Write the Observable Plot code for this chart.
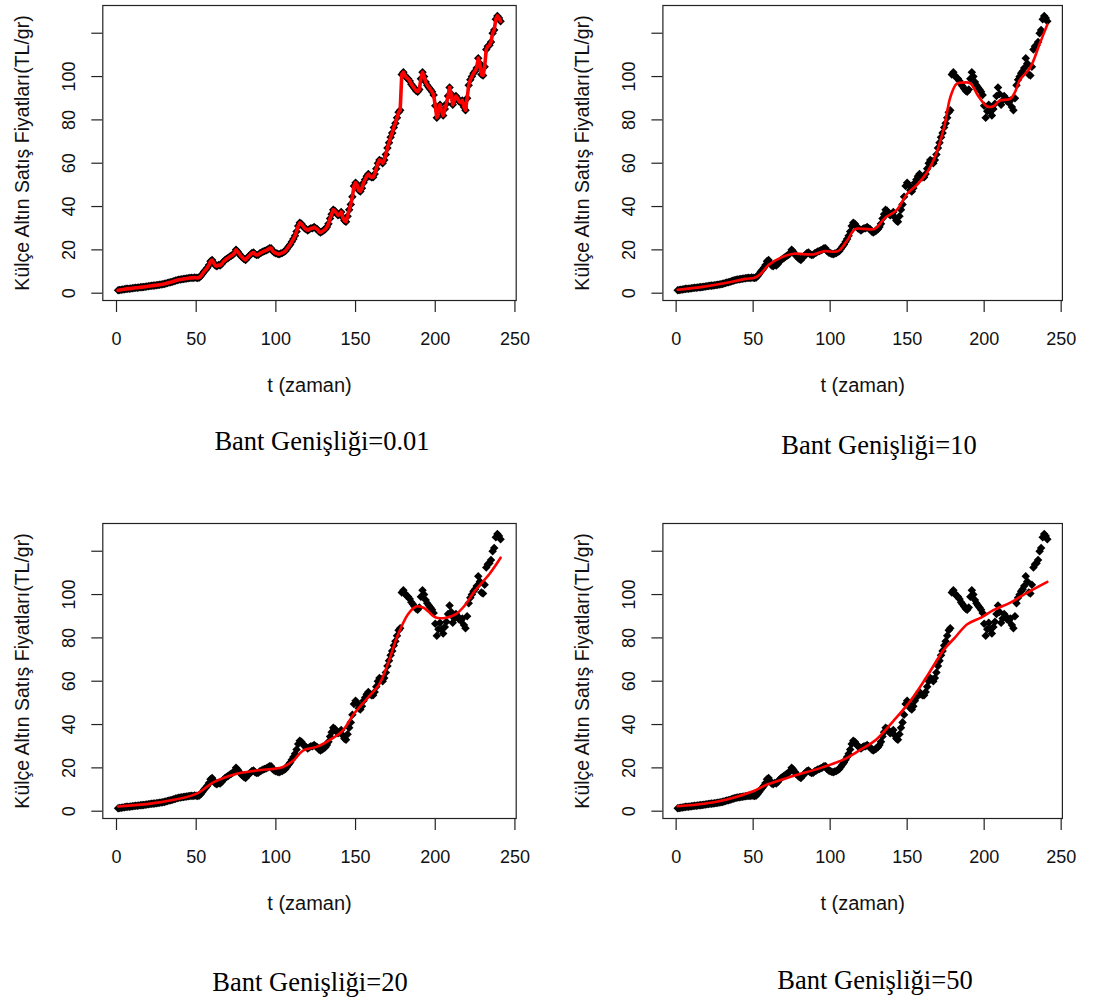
<!DOCTYPE html>
<html><head><meta charset="utf-8">
<script src="https://cdn.jsdelivr.net/npm/d3@7"></script>
<script src="https://cdn.jsdelivr.net/npm/@observablehq/plot@0.6"></script>
<style>
body{margin:0;background:#fff;}
#wrap{position:relative;width:1104px;height:1003px;overflow:hidden;background:#fff;}
.panel{position:absolute;}
.cap{position:absolute;font-family:"Liberation Serif","Times New Roman",serif;font-size:26.5px;color:#000;transform:translate(-50%,-50%);white-space:nowrap;}
</style></head><body><div id="wrap"></div>
<script>
// ---- data ----
const price = [
1.4,1.5,1.6,1.7,1.8,2.0,2.1,2.1,2.2,2.3,
2.4,2.5,2.5,2.6,2.7,2.8,2.9,3.0,3.1,3.2,
3.3,3.4,3.5,3.6,3.7,3.8,3.9,4.0,4.1,4.3,
4.5,4.7,4.9,5.1,5.3,5.5,5.8,6.0,6.2,6.3,
6.4,6.6,6.7,6.8,6.9,7.0,7.1,7.0,7.2,7.1,
7.0,7.3,8.0,9.0,10.0,10.8,11.8,13.0,14.8,15.3,
14.0,12.8,12.5,13.0,12.8,13.5,14.5,15.2,15.8,16.3,
16.8,17.3,17.8,18.5,20.0,19.2,18.2,17.2,16.5,15.8,
15.3,16.3,17.0,17.8,18.5,18.8,18.0,17.6,17.8,18.4,
18.8,19.2,19.5,19.8,20.2,20.8,20.8,19.5,18.8,18.5,
18.2,18.0,18.3,18.6,19.0,19.5,20.5,21.5,22.5,23.8,
25.0,26.5,28.5,31.0,32.5,32.0,31.0,30.0,29.5,29.0,
29.5,30.0,30.0,30.5,30.0,29.5,28.5,28.0,28.5,29.0,
29.5,30.5,32.0,34.5,36.5,38.5,38.0,37.0,36.0,36.5,
37.5,35.0,33.5,33.0,35.5,38.5,41.0,44.5,49.5,51.0,
50.0,47.5,47.0,48.5,51.0,52.5,54.0,55.0,54.0,53.5,
53.5,55.0,57.5,60.0,61.5,61.0,60.0,61.5,64.0,67.0,
69.5,72.0,74.0,76.5,78.5,81.0,83.5,84.5,101.0,102.0,
100.5,99.5,99.0,98.0,96.5,95.5,94.5,93.5,93.0,94.0,
99.0,102.0,100.0,97.5,96.0,95.0,94.0,93.0,91.5,86.5,
81.0,84.0,87.0,84.0,82.0,85.0,87.5,91.0,95.0,92.0,
87.0,89.0,91.0,90.0,88.5,88.0,89.0,86.0,84.5,90.0,
96.0,98.5,100.0,101.5,102.5,104.0,108.5,106.0,101.0,100.5,
104.5,112.5,114.0,114.5,116.0,120.0,121.5,126.5,128.0,127.0,125.5
];
const timeIndex = price.map((_, i) => i + 1);

const bw10T = [1,15,33,45,51,55,60,68,76,89,96,105,111,116,122,129,136,143,150,157,163,168,174,178,182,186,191,196,202,206,210,217,220,223,230,236,241];
const bw10V = [1.6,2.7,4.8,6.6,7.1,9.0,13.0,16.4,18.2,17.9,19.4,19.4,24.3,29.5,29.7,29.7,35,38.2,45.9,50.5,55.8,62.8,76.6,90.4,96.6,97.2,96.9,91.2,86.2,86.3,88.9,89.7,92.8,98.2,104.3,115,124];

const bw20T = [1,28,50,61,75,88,104,111,117,126,135,142,149,158,165,171,176,183,188,193,200,206,213,218,225,234,241];
const bw20V = [2.2,4.2,8.0,13.4,17.2,18.8,20.3,23.4,28,29.8,33.4,37.2,45,52.6,58.8,69.5,80.3,91,94.5,93.8,89.5,89.2,91,94.5,101.8,109.5,117];

const bw50T = [1,18,33,50,59,76,94,109,120,130,141,152,163,174,181,189,198,206,217,228,241];
const bw50V = [2.3,3.4,5.4,9.2,12.3,16.2,20,23.9,28.5,33.1,41.6,50.8,62.4,74.7,80.1,86.3,89.4,92.8,96.3,100.9,105.9];

const xTicks = [0,50,100,150,200,250];
const xTickLabels = ["0","50","100","150","200","250"];
const yTicks = [0,20,40,60,80,100,120];
const yTickLabels = ["0","20","40","60","80","100",""];
const xTitle = "t (zaman)";
const yTitle = "Külçe Altın Satış Fiyatları(TL/gr)";
const captions = ["Bant Genişliği=0.01","Bant Genişliği=10","Bant Genişliği=20","Bant Genişliği=50"];

// ---- drawing ----
const diamond = {draw(ctx, size){ const s = Math.sqrt(size/2); ctx.moveTo(0,-s); ctx.lineTo(s,0); ctx.lineTo(0,s); ctx.lineTo(-s,0); ctx.closePath(); }};
const pts = price.map((v,i)=>({t: timeIndex[i], v}));
const toRows = (T,V) => T.map((t,i)=>({t, v: V[i]}));

const panels = [
  {left:0,   top:0,     w:552, h:517,   ml:102.3, mr:36.3, smooth: pts,               curve:"linear",      sw:3.6, cap:captions[0], cx:322, cy:441},
  {left:552, top:0,     w:552, h:517,   ml:110.4, mr:42.1, smooth: toRows(bw10T,bw10V), curve:"catmull-rom", sw:2.6, cap:captions[1], cx:879, cy:445},
  {left:0,   top:517.5, w:552, h:485.5, ml:102.3, mr:36.3, smooth: toRows(bw20T,bw20V), curve:"catmull-rom", sw:2.6, cap:captions[2], cx:310, cy:982},
  {left:552, top:517.5, w:552, h:485.5, ml:110.4, mr:42.1, smooth: toRows(bw50T,bw50V), curve:"catmull-rom", sw:2.6, cap:captions[3], cx:875, cy:980}
];

const wrap = document.getElementById("wrap");
for (const p of panels) {
  const chart = Plot.plot({
    width: p.w, height: p.h,
    marginLeft: p.ml, marginRight: p.mr, marginTop: 5, marginBottom: p.h - 300,
    x: {domain: [-8.6, 250.8]},
    y: {domain: [-3.37, 132.8]},
    style: {fontFamily: "'Liberation Sans', Arial, sans-serif", fontSize: "18px", color: "#111", background: "transparent", overflow: "visible"},
    marks: [
      Plot.axisX({ticks: xTicks, tickFormat: (d,i) => xTickLabels[i], tickSize: 12, tickPadding: 20, label: null, stroke: "#222", strokeWidth: 1.2}),
      Plot.axisY({ticks: yTicks, tickFormat: (d,i) => yTickLabels[i], tickSize: 11, tickPadding: 17, tickRotate: -90, label: null, stroke: "#222", strokeWidth: 1.2}),
      Plot.dot(pts, {x: "t", y: "v", symbol: diamond, r: 3.4, fill: "#000", stroke: "none"}),
      Plot.line(p.smooth, {x: "t", y: "v", stroke: "#ff0000", strokeWidth: p.sw, curve: p.curve}),
      Plot.frame({stroke: "#222", strokeWidth: 1.2}),
      Plot.text([xTitle], {text: d => d, frameAnchor: "bottom", dy: 85, textAnchor: "middle", lineAnchor: "middle", fontSize: 20}),
      Plot.text([yTitle], {text: d => d, frameAnchor: "left", dx: -80, rotate: -90, textAnchor: "middle", lineAnchor: "middle", fontSize: 19.5})
    ]
  });
  chart.classList.add("panel");
  chart.style.left = p.left + "px";
  chart.style.top = p.top + "px";
  wrap.appendChild(chart);
  const c = document.createElement("div");
  c.className = "cap";
  c.textContent = p.cap;
  c.style.left = p.cx + "px";
  c.style.top = p.cy + "px";
  wrap.appendChild(c);
}
</script>
</body></html>
